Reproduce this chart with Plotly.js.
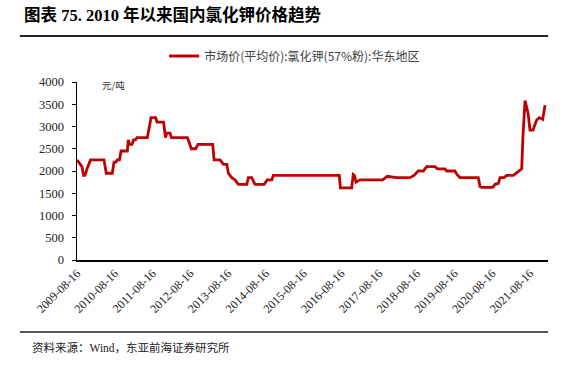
<!DOCTYPE html>
<html>
<head>
<meta charset="utf-8">
<script src="https://cdn.plot.ly/plotly-3.0.1.min.js"></script>
<style>html,body{margin:0;padding:0;background:#fff;}#chart{width:578px;height:368px;}</style>
</head>
<body>
<div id="chart"></div>
<script>
const dates = [
"2009-08-16","2009-09-15","2009-10-03","2009-10-18","2009-11-01","2009-11-21","2009-12-25",
"2010-05-04","2010-05-26","2010-07-23","2010-08-09","2010-08-28","2010-09-10","2010-10-01","2010-10-16",
"2010-12-16","2010-12-25","2011-01-06","2011-01-30","2011-02-14","2011-03-05","2011-03-19",
"2011-06-27","2011-07-18","2011-08-02","2011-09-16","2011-09-29","2011-12-01","2011-12-20",
"2012-01-01","2012-02-02","2012-02-16","2012-07-18","2012-08-04","2012-08-26","2012-10-07","2012-10-30",
"2013-03-21","2013-04-03","2013-05-31","2013-07-02","2013-08-04","2013-08-19","2013-09-21","2013-10-23",
"2013-11-24","2014-02-13","2014-03-01","2014-04-02","2014-05-04","2014-07-30","2014-08-31","2014-10-13",
"2014-10-28","2016-07-27","2016-08-07","2016-11-24","2016-12-09","2016-12-21","2017-01-05","2017-02-12",
"2017-09-20","2017-11-03","2018-02-02","2018-06-11","2018-07-20","2018-08-30","2018-10-18","2018-11-19",
"2019-02-08","2019-03-02","2019-05-15","2019-06-01","2019-08-20","2019-09-06","2019-10-08","2020-04-02",
"2020-04-18","2020-05-07","2020-08-19","2020-09-11","2020-10-13","2020-10-29","2020-12-07","2021-01-02",
"2021-03-07","2021-04-02","2021-04-24","2021-05-27","2021-06-06","2021-06-28","2021-07-27","2021-08-15",
"2021-09-13","2021-10-19","2021-11-13","2021-12-16","2022-01-07"
];
const prices = [
2250,2150,2100,1900,1900,2050,2250,
2250,1950,1950,2200,2200,2250,2250,2450,
2450,2700,2600,2600,2700,2700,2750,
2750,3000,3200,3200,3100,3100,2750,
2850,2850,2750,2750,2650,2500,2500,2600,
2600,2250,2250,2150,2150,1950,1850,1800,
1700,1700,1850,1850,1700,1700,1800,1800,
1900,1900,1620,1620,1920,1900,1750,1800,
1800,1880,1850,1850,1900,2000,2000,2100,
2100,2050,2050,2000,2000,1930,1850,1850,
1650,1630,1630,1700,1720,1850,1850,1900,
1900,1950,2000,2050,2700,3580,3300,2920,
2920,3150,3200,3160,3480
];
const tickDates = ["2009-08-16","2010-08-16","2011-08-16","2012-08-16","2013-08-16","2014-08-16","2015-08-16",
"2016-08-16","2017-08-16","2018-08-16","2019-08-16","2020-08-16","2021-08-16"];
const yTicks = [0,500,1000,1500,2000,2500,3000,3500,4000];
const seriesName = "市场价(平均价):氯化钾(57%粉):华东地区";
const titleText = "图表 75. 2010 年以来国内氯化钾价格趋势";
const sourceText = "资料来源：Wind，东亚前海证券研究所";
const unitText = "元/吨";

const serif = "'Liberation Serif','Times New Roman','Noto Sans CJK SC',serif";
const trace = {
  x: dates, y: prices, type: "scatter", mode: "lines", name: seriesName,
  line: {color: "#C00000", width: 2.8}
};
const layout = {
  width: 578, height: 368,
  margin: {l: 77, r: 30, t: 82, b: 108},
  paper_bgcolor: "#fff", plot_bgcolor: "#fff",
  showlegend: true,
  legend: {x: 0.185, y: 1.146, xanchor: "left", yanchor: "middle", orientation: "h",
    font: {family: "'Noto Sans CJK SC',sans-serif", size: 12, color: "#404040"}, bgcolor: "rgba(0,0,0,0)"},
  xaxis: {
    type: "date", range: ["2009-08-16", "2022-02-05"],
    tickvals: tickDates, ticktext: tickDates, tickangle: -45,
    showgrid: false, zeroline: false, showline: true, linecolor: "#000", linewidth: 1.5,
    ticks: "", tickfont: {family: serif, size: 12, color: "#222"}
  },
  yaxis: {
    range: [0, 4000], tickvals: yTicks, ticktext: yTicks.map(String),
    showgrid: false, zeroline: false, showline: true, linecolor: "#000", linewidth: 1.5,
    ticks: "outside", ticklen: 4, tickcolor: "#000", tickwidth: 1, ticklabelstandoff: 5,
    tickfont: {family: serif, size: 12.5, color: "#222"}
  },
  annotations: [
    {text: "<b>" + titleText + "</b>", xref: "paper", yref: "paper", x: -0.117, y: 1.375,
     xanchor: "left", yanchor: "middle", showarrow: false,
     font: {family: "'Liberation Serif','Noto Sans CJK SC',serif", size: 16.5, color: "#000"}},
    {text: unitText, xref: "paper", yref: "paper", x: 0.048, y: 0.985, xanchor: "left", yanchor: "middle",
     showarrow: false, font: {family: "'Noto Sans CJK SC',sans-serif", size: 9.5, color: "#333"}},
    {text: sourceText, xref: "paper", yref: "paper", x: -0.1, y: -0.49, xanchor: "left", yanchor: "middle",
     showarrow: false, font: {family: "'Liberation Serif','Noto Sans CJK SC',serif", size: 11.5, color: "#222"}}
  ],
  shapes: [
    {type: "line", xref: "paper", yref: "paper", x0: -0.121, x1: 1.0, y0: 1.258, y1: 1.258,
     line: {color: "#222", width: 2}},
    {type: "line", xref: "paper", yref: "paper", x0: -0.121, x1: 1.0, y0: -0.405, y1: -0.405,
     line: {color: "#222", width: 1.5}}
  ]
};
Plotly.newPlot("chart", [trace], layout, {staticPlot: true, displayModeBar: false});
</script>
</body>
</html>
